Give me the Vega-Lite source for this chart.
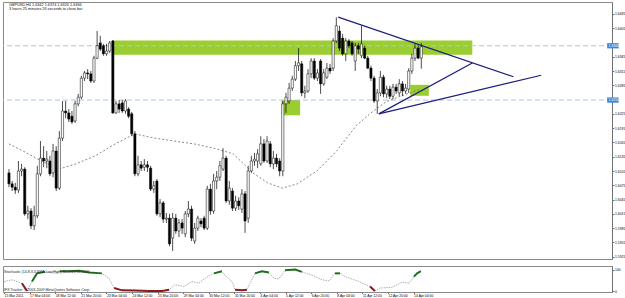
{
  "$schema": "https://vega.github.io/schema/vega-lite/v6.json",
  "background": "white",
  "padding": {"left": 1, "top": 1, "right": 1, "bottom": 0},
  "spacing": 5,
  "config": {
    "view": {"stroke": "#8a8a8a", "strokeWidth": 1},
    "font": "Liberation Sans",
    "axis": {"labelFont": "Liberation Sans", "labelFontSize": 3.4, "labelColor": "#000000", "domainColor": "#707070", "tickColor": "#707070", "tickSize": 2, "labelPadding": 0.5, "grid": false}
  },
  "datasets": {
    "candles": [
      {"i":0,"o":1.6101,"h":1.6109,"l":1.6071,"c":1.6078},
      {"i":1,"o":1.6078,"h":1.6084,"l":1.6063,"c":1.6071},
      {"i":2,"o":1.6071,"h":1.6080,"l":1.6057,"c":1.6065},
      {"i":3,"o":1.6065,"h":1.6126,"l":1.6059,"c":1.6105},
      {"i":4,"o":1.6105,"h":1.6120,"l":1.6094,"c":1.6109},
      {"i":5,"o":1.6109,"h":1.6113,"l":1.6011,"c":1.6015},
      {"i":6,"o":1.6015,"h":1.6032,"l":1.6004,"c":1.6021},
      {"i":7,"o":1.6021,"h":1.6027,"l":1.5983,"c":1.5990},
      {"i":8,"o":1.5990,"h":1.6032,"l":1.5981,"c":1.6011},
      {"i":9,"o":1.6011,"h":1.6116,"l":1.6006,"c":1.6099},
      {"i":10,"o":1.6099,"h":1.6168,"l":1.6094,"c":1.6132},
      {"i":11,"o":1.6132,"h":1.6157,"l":1.6113,"c":1.6126},
      {"i":12,"o":1.6126,"h":1.6147,"l":1.6111,"c":1.6130},
      {"i":13,"o":1.6126,"h":1.6137,"l":1.6094,"c":1.6099},
      {"i":14,"o":1.6101,"h":1.6162,"l":1.6092,"c":1.6147},
      {"i":15,"o":1.6147,"h":1.6157,"l":1.6063,"c":1.6069},
      {"i":16,"o":1.6069,"h":1.6189,"l":1.6065,"c":1.6174},
      {"i":17,"o":1.6174,"h":1.6252,"l":1.6168,"c":1.6231},
      {"i":18,"o":1.6231,"h":1.6252,"l":1.6216,"c":1.6227},
      {"i":19,"o":1.6227,"h":1.6235,"l":1.6208,"c":1.6214},
      {"i":20,"o":1.6220,"h":1.6231,"l":1.6204,"c":1.6208},
      {"i":21,"o":1.6210,"h":1.6252,"l":1.6206,"c":1.6246},
      {"i":22,"o":1.6246,"h":1.6267,"l":1.6241,"c":1.6260},
      {"i":23,"o":1.6260,"h":1.6305,"l":1.6256,"c":1.6300},
      {"i":24,"o":1.6300,"h":1.6315,"l":1.6294,"c":1.6311},
      {"i":25,"o":1.6311,"h":1.6319,"l":1.6298,"c":1.6309},
      {"i":26,"o":1.6309,"h":1.6315,"l":1.6290,"c":1.6294},
      {"i":27,"o":1.6294,"h":1.6347,"l":1.6290,"c":1.6342},
      {"i":28,"o":1.6342,"h":1.6399,"l":1.6340,"c":1.6368},
      {"i":29,"o":1.6374,"h":1.6389,"l":1.6357,"c":1.6361},
      {"i":30,"o":1.6368,"h":1.6372,"l":1.6347,"c":1.6351},
      {"i":31,"o":1.6351,"h":1.6372,"l":1.6347,"c":1.6357},
      {"i":32,"o":1.6357,"h":1.6378,"l":1.6353,"c":1.6374},
      {"i":33,"o":1.6378,"h":1.6380,"l":1.6225,"c":1.6227},
      {"i":34,"o":1.6227,"h":1.6252,"l":1.6225,"c":1.6246},
      {"i":35,"o":1.6246,"h":1.6254,"l":1.6227,"c":1.6235},
      {"i":36,"o":1.6248,"h":1.6254,"l":1.6227,"c":1.6231},
      {"i":37,"o":1.6231,"h":1.6256,"l":1.6225,"c":1.6252},
      {"i":38,"o":1.6235,"h":1.6239,"l":1.6216,"c":1.6220},
      {"i":39,"o":1.6225,"h":1.6229,"l":1.6178,"c":1.6183},
      {"i":40,"o":1.6183,"h":1.6189,"l":1.6094,"c":1.6099},
      {"i":41,"o":1.6099,"h":1.6137,"l":1.6094,"c":1.6118},
      {"i":42,"o":1.6118,"h":1.6126,"l":1.6105,"c":1.6111},
      {"i":43,"o":1.6113,"h":1.6130,"l":1.6105,"c":1.6118},
      {"i":44,"o":1.6118,"h":1.6126,"l":1.6103,"c":1.6113},
      {"i":45,"o":1.6111,"h":1.6116,"l":1.6063,"c":1.6067},
      {"i":46,"o":1.6067,"h":1.6084,"l":1.6059,"c":1.6074},
      {"i":47,"o":1.6084,"h":1.6088,"l":1.6011,"c":1.6015},
      {"i":48,"o":1.6015,"h":1.6046,"l":1.6008,"c":1.6038},
      {"i":49,"o":1.6038,"h":1.6042,"l":1.5996,"c":1.6004},
      {"i":50,"o":1.6004,"h":1.6017,"l":1.5996,"c":1.6006},
      {"i":51,"o":1.6006,"h":1.6015,"l":1.5947,"c":1.5952},
      {"i":52,"o":1.5964,"h":1.6017,"l":1.5937,"c":1.6006},
      {"i":53,"o":1.6006,"h":1.6015,"l":1.5973,"c":1.5979},
      {"i":54,"o":1.5979,"h":1.6004,"l":1.5966,"c":1.5996},
      {"i":55,"o":1.5996,"h":1.6004,"l":1.5973,"c":1.5985},
      {"i":56,"o":1.5973,"h":1.6021,"l":1.5966,"c":1.6015},
      {"i":57,"o":1.6015,"h":1.6042,"l":1.6008,"c":1.6025},
      {"i":58,"o":1.6025,"h":1.6032,"l":1.5958,"c":1.5964},
      {"i":59,"o":1.5958,"h":1.5996,"l":1.5952,"c":1.5985},
      {"i":60,"o":1.5985,"h":1.6011,"l":1.5979,"c":1.6006},
      {"i":61,"o":1.6000,"h":1.6006,"l":1.5987,"c":1.5994},
      {"i":62,"o":1.6006,"h":1.6011,"l":1.5981,"c":1.5985},
      {"i":63,"o":1.5985,"h":1.6074,"l":1.5981,"c":1.6067},
      {"i":64,"o":1.6067,"h":1.6078,"l":1.6013,"c":1.6021},
      {"i":65,"o":1.6021,"h":1.6099,"l":1.6015,"c":1.6084},
      {"i":66,"o":1.6084,"h":1.6105,"l":1.6067,"c":1.6092},
      {"i":67,"o":1.6092,"h":1.6126,"l":1.6084,"c":1.6116},
      {"i":68,"o":1.6109,"h":1.6153,"l":1.6105,"c":1.6132},
      {"i":69,"o":1.6132,"h":1.6137,"l":1.6038,"c":1.6042},
      {"i":70,"o":1.6042,"h":1.6084,"l":1.6034,"c":1.6069},
      {"i":71,"o":1.6063,"h":1.6069,"l":1.6021,"c":1.6027},
      {"i":72,"o":1.6027,"h":1.6053,"l":1.6021,"c":1.6042},
      {"i":73,"o":1.6042,"h":1.6050,"l":1.6023,"c":1.6032},
      {"i":74,"o":1.6025,"h":1.6067,"l":1.6017,"c":1.6057},
      {"i":75,"o":1.6057,"h":1.6063,"l":1.5975,"c":1.6000},
      {"i":76,"o":1.6006,"h":1.6116,"l":1.5996,"c":1.6105},
      {"i":77,"o":1.6105,"h":1.6137,"l":1.6101,"c":1.6126},
      {"i":78,"o":1.6126,"h":1.6143,"l":1.6116,"c":1.6130},
      {"i":79,"o":1.6126,"h":1.6151,"l":1.6111,"c":1.6141},
      {"i":80,"o":1.6120,"h":1.6178,"l":1.6116,"c":1.6162},
      {"i":81,"o":1.6162,"h":1.6172,"l":1.6122,"c":1.6126},
      {"i":82,"o":1.6126,"h":1.6178,"l":1.6122,"c":1.6168},
      {"i":83,"o":1.6162,"h":1.6168,"l":1.6113,"c":1.6120},
      {"i":84,"o":1.6120,"h":1.6147,"l":1.6109,"c":1.6132},
      {"i":85,"o":1.6132,"h":1.6141,"l":1.6113,"c":1.6120},
      {"i":86,"o":1.6126,"h":1.6132,"l":1.6094,"c":1.6105},
      {"i":87,"o":1.6105,"h":1.6252,"l":1.6094,"c":1.6246},
      {"i":88,"o":1.6246,"h":1.6269,"l":1.6227,"c":1.6260},
      {"i":89,"o":1.6252,"h":1.6290,"l":1.6246,"c":1.6279},
      {"i":90,"o":1.6279,"h":1.6305,"l":1.6273,"c":1.6298},
      {"i":91,"o":1.6298,"h":1.6336,"l":1.6294,"c":1.6326},
      {"i":92,"o":1.6326,"h":1.6363,"l":1.6315,"c":1.6332},
      {"i":93,"o":1.6330,"h":1.6336,"l":1.6262,"c":1.6269},
      {"i":94,"o":1.6269,"h":1.6284,"l":1.6258,"c":1.6273},
      {"i":95,"o":1.6273,"h":1.6319,"l":1.6269,"c":1.6309},
      {"i":96,"o":1.6309,"h":1.6342,"l":1.6300,"c":1.6336},
      {"i":97,"o":1.6336,"h":1.6342,"l":1.6296,"c":1.6300},
      {"i":98,"o":1.6300,"h":1.6319,"l":1.6294,"c":1.6311},
      {"i":99,"o":1.6336,"h":1.6340,"l":1.6267,"c":1.6288},
      {"i":100,"o":1.6288,"h":1.6319,"l":1.6284,"c":1.6311},
      {"i":101,"o":1.6302,"h":1.6332,"l":1.6298,"c":1.6321},
      {"i":102,"o":1.6321,"h":1.6330,"l":1.6309,"c":1.6315},
      {"i":103,"o":1.6321,"h":1.6384,"l":1.6315,"c":1.6378},
      {"i":104,"o":1.6378,"h":1.6428,"l":1.6374,"c":1.6410},
      {"i":105,"o":1.6399,"h":1.6410,"l":1.6357,"c":1.6363},
      {"i":106,"o":1.6384,"h":1.6393,"l":1.6347,"c":1.6351},
      {"i":107,"o":1.6351,"h":1.6384,"l":1.6336,"c":1.6378},
      {"i":108,"o":1.6378,"h":1.6382,"l":1.6363,"c":1.6368},
      {"i":109,"o":1.6374,"h":1.6378,"l":1.6347,"c":1.6351},
      {"i":110,"o":1.6336,"h":1.6374,"l":1.6315,"c":1.6368},
      {"i":111,"o":1.6368,"h":1.6374,"l":1.6351,"c":1.6361},
      {"i":112,"o":1.6347,"h":1.6410,"l":1.6342,"c":1.6372},
      {"i":113,"o":1.6363,"h":1.6368,"l":1.6340,"c":1.6342},
      {"i":114,"o":1.6342,"h":1.6347,"l":1.6319,"c":1.6321},
      {"i":115,"o":1.6321,"h":1.6326,"l":1.6294,"c":1.6300},
      {"i":116,"o":1.6300,"h":1.6305,"l":1.6248,"c":1.6252},
      {"i":117,"o":1.6252,"h":1.6277,"l":1.6225,"c":1.6269},
      {"i":118,"o":1.6269,"h":1.6315,"l":1.6262,"c":1.6302},
      {"i":119,"o":1.6302,"h":1.6307,"l":1.6260,"c":1.6267},
      {"i":120,"o":1.6267,"h":1.6284,"l":1.6258,"c":1.6277},
      {"i":121,"o":1.6277,"h":1.6284,"l":1.6256,"c":1.6262},
      {"i":122,"o":1.6262,"h":1.6288,"l":1.6256,"c":1.6281},
      {"i":123,"o":1.6281,"h":1.6288,"l":1.6267,"c":1.6273},
      {"i":124,"o":1.6269,"h":1.6298,"l":1.6262,"c":1.6288},
      {"i":125,"o":1.6288,"h":1.6294,"l":1.6262,"c":1.6273},
      {"i":126,"o":1.6273,"h":1.6288,"l":1.6267,"c":1.6279},
      {"i":127,"o":1.6277,"h":1.6321,"l":1.6269,"c":1.6315},
      {"i":128,"o":1.6315,"h":1.6351,"l":1.6309,"c":1.6342},
      {"i":129,"o":1.6342,"h":1.6372,"l":1.6336,"c":1.6363},
      {"i":130,"o":1.6363,"h":1.6370,"l":1.6340,"c":1.6342},
      {"i":131,"o":1.6342,"h":1.6374,"l":1.6320,"c":1.6366}
    ],
    "ma": [
      {"i":0,"p":1.6162},{"i":5.6,"p":1.6143},{"i":10.3,"p":1.6126},{"i":15.9,"p":1.6109},
      {"i":21.25,"p":1.6120},{"i":27.5,"p":1.6137},{"i":33.75,"p":1.6162},{"i":40,"p":1.6183},
      {"i":46.25,"p":1.6174},{"i":52.5,"p":1.6168},{"i":58.75,"p":1.6162},{"i":65,"p":1.6153},
      {"i":71.25,"p":1.6141},{"i":77.5,"p":1.6101},{"i":82.2,"p":1.6080},{"i":86.9,"p":1.6069},
      {"i":91.6,"p":1.6078},{"i":97.8,"p":1.6105},{"i":104.1,"p":1.6147},{"i":110.3,"p":1.6200},
      {"i":115,"p":1.6227},{"i":119.7,"p":1.6250},{"i":124.4,"p":1.6262},{"i":130.6,"p":1.6277}
    ],
    "zones": [
      {"i1":32.8,"i2":147.2,"p1":1.6379,"p2":1.6349},
      {"i1":86.6,"i2":92.5,"p1":1.6254,"p2":1.6222},
      {"i1":127.5,"i2":133.4,"p1":1.6286,"p2":1.6263}
    ],
    "levels": [
      {"v":1.6368,"label":"1.6368"},
      {"v":1.6254,"label":"1.6254"}
    ],
    "trend": [
      {"i1":104.6,"p1":1.6428,"i2":160.3,"p2":1.6303},
      {"i1":117.5,"p1":1.6225,"i2":147.2,"p2":1.6332},
      {"i1":117.5,"p1":1.6225,"i2":169.1,"p2":1.6306}
    ],
    "stoch": [
      {"i":0,"v":44},{"i":2.5,"v":52},{"i":5.6,"v":36,"seg":"r1","zone":"down"},{"i":7.2,"v":0,"seg":"r1","zone":"down"},
      {"i":8.75,"v":44,"seg":"g1","zone":"up"},{"i":10.3,"v":82,"seg":"g1","zone":"up"},{"i":12.8,"v":89,"seg":"g1","zone":"up"},
      {"i":16,"v":82},{"i":17.5,"v":92,"seg":"g2","zone":"up"},{"i":20.3,"v":92,"seg":"g2","zone":"up"},{"i":23.4,"v":94,"seg":"g2","zone":"up"},
      {"i":26.6,"v":86,"seg":"g2","zone":"up"},{"i":30.6,"v":82,"seg":"g2","zone":"up"},{"i":32.8,"v":59},
      {"i":34.4,"v":14,"seg":"r2","zone":"down"},{"i":36.9,"v":3,"seg":"r2","zone":"down"},{"i":41,"v":2,"seg":"r2","zone":"down"},
      {"i":45.3,"v":0,"seg":"r2","zone":"down"},{"i":49.4,"v":0,"seg":"r2","zone":"down"},{"i":51.6,"v":6,"seg":"r2","zone":"down"},
      {"i":53.4,"v":29},{"i":56.2,"v":21},{"i":58.75,"v":44},{"i":60.9,"v":36},{"i":62.8,"v":59},
      {"i":65.6,"v":82,"seg":"g3","zone":"up"},{"i":68.1,"v":92,"seg":"g3","zone":"up"},{"i":69,"v":74},{"i":71.25,"v":44},
      {"i":72.2,"v":6,"seg":"r3","zone":"down"},{"i":74.4,"v":3,"seg":"r3","zone":"down"},{"i":75.9,"v":6,"seg":"r3","zone":"down"},
      {"i":78.4,"v":82,"seg":"g4","zone":"up"},{"i":80.6,"v":92,"seg":"g4","zone":"up"},{"i":82.8,"v":86,"seg":"g4","zone":"up"},
      {"i":84.4,"v":59},{"i":85.9,"v":56},
      {"i":87.8,"v":97,"seg":"g5","zone":"up"},{"i":91,"v":100,"seg":"g5","zone":"up"},{"i":93.1,"v":89,"seg":"g5","zone":"up"},
      {"i":96.25,"v":74},{"i":99.4,"v":52},{"i":101.6,"v":47},
      {"i":103.4,"v":82,"seg":"g6","zone":"up"},{"i":105,"v":82,"seg":"g6","zone":"up"},
      {"i":106.6,"v":67},{"i":110.9,"v":44},
      {"i":114.4,"v":21,"seg":"r4","zone":"down"},{"i":115.9,"v":0,"seg":"r4","zone":"down"},
      {"i":117.5,"v":14},{"i":121.25,"v":17},{"i":124.4,"v":41},{"i":126.6,"v":36},
      {"i":128.1,"v":67,"seg":"g7","zone":"up"},{"i":129.1,"v":82,"seg":"g7","zone":"up"},{"i":130.3,"v":92,"seg":"g7","zone":"up"}
    ]
  },
  "vconcat": [
    {
      "width": 609,
      "height": 257,
      "resolve": {"axis": {"y": "independent"}},
      "layer": [
        {
          "data": {"name": "zones"},
          "mark": {"type": "rect", "color": "#9ACD32"},
          "encoding": {
            "x": {"field": "i1", "type": "quantitative", "scale": {"domain": [-0.3125, 190], "nice": false, "zero": false}, "axis": null},
            "x2": {"field": "i2"},
            "y": {"field": "p1", "type": "quantitative", "scale": {"domain": [1.59202, 1.64599], "nice": false, "zero": false}, "title": null,
              "axis": {"orient": "right", "format": ".4f", "labels": true, "ticks": true, "domain": true, "labelOverlap": false, "labelFlush": false, "values": [1.5925,1.5955,1.5985,1.6015,1.6045,1.6075,1.6105,1.6135,1.6165,1.6195,1.6225,1.6285,1.6315,1.6345,1.6405,1.6435]}},
            "y2": {"field": "p2"}
          }
        },
        {
          "data": {"name": "levels"},
          "mark": {"type": "rule", "color": "#A6C6E8", "strokeWidth": 1, "strokeDash": [5, 3]},
          "encoding": {
            "y": {"field": "v", "type": "quantitative", "axis": null}
          }
        },
        {
          "data": {"name": "ma"},
          "mark": {"type": "line", "color": "#6a6a6a", "strokeWidth": 0.8, "strokeDash": [2, 2]},
          "encoding": {
            "x": {"field": "i", "type": "quantitative", "axis": null},
            "y": {"field": "p", "type": "quantitative", "axis": null}
          }
        },
        {
          "data": {"name": "candles"},
          "mark": {"type": "rule", "color": "#000000", "strokeWidth": 0.7},
          "encoding": {
            "x": {"field": "i", "type": "quantitative", "axis": null},
            "y": {"field": "l", "type": "quantitative", "axis": null},
            "y2": {"field": "h"}
          }
        },
        {
          "data": {"name": "candles"},
          "mark": {"type": "bar", "width": 2.2, "stroke": "#000000", "strokeWidth": 0.5},
          "encoding": {
            "x": {"field": "i", "type": "quantitative", "axis": null},
            "y": {"field": "o", "type": "quantitative", "axis": null},
            "y2": {"field": "c"},
            "fill": {"condition": {"test": "datum.c >= datum.o", "value": "#ffffff"}, "value": "#000000"}
          }
        },
        {
          "data": {"name": "trend"},
          "mark": {"type": "rule", "color": "#1D1D7E", "strokeWidth": 1.2},
          "encoding": {
            "x": {"field": "i1", "type": "quantitative", "axis": null},
            "x2": {"field": "i2"},
            "y": {"field": "p1", "type": "quantitative", "axis": null},
            "y2": {"field": "p2"}
          }
        },
        {
          "data": {"name": "levels"},
          "transform": [
            {"calculate": "datum.v - 0.00055", "as": "lo"},
            {"calculate": "datum.v + 0.00055", "as": "hi"}
          ],
          "mark": {"type": "rect", "color": "#3A88D6", "clip": false},
          "encoding": {
            "x": {"datum": 190.05, "type": "quantitative", "axis": null},
            "x2": {"datum": 193.7},
            "y": {"field": "lo", "type": "quantitative", "axis": null},
            "y2": {"field": "hi"}
          }
        },
        {
          "data": {"name": "levels"},
          "mark": {"type": "text", "color": "#ffffff", "fontSize": 3.4, "align": "left", "baseline": "middle", "clip": false},
          "encoding": {
            "x": {"datum": 190.5, "type": "quantitative", "axis": null},
            "y": {"field": "v", "type": "quantitative", "axis": null},
            "text": {"field": "label"}
          }
        },
        {
          "data": {"values": [{"label": "GBPUSD,H4  1.6342 1.6374 1.6320 1.6366"}]},
          "mark": {"type": "text", "color": "#111111", "fontSize": 3.8, "align": "left", "baseline": "middle"},
          "encoding": {
            "x": {"datum": 0, "type": "quantitative", "axis": null},
            "y": {"datum": 1.6454, "type": "quantitative", "axis": null},
            "text": {"field": "label"}
          }
        },
        {
          "data": {"values": [{"label": "3 hours 25 minutes 26 seconds to close bar"}]},
          "mark": {"type": "text", "color": "#111111", "fontSize": 3.8, "align": "left", "baseline": "middle"},
          "encoding": {
            "x": {"datum": 0, "type": "quantitative", "axis": null},
            "y": {"datum": 1.6445, "type": "quantitative", "axis": null},
            "text": {"field": "label"}
          }
        }
      ]
    },
    {
      "width": 609,
      "height": 26,
      "resolve": {"axis": {"x": "independent", "y": "independent"}},
      "layer": [
        {
          "data": {"name": "stoch"},
          "mark": {"type": "line", "color": "#9a9a9a", "strokeWidth": 0.8, "strokeDash": [1.5, 1]},
          "encoding": {
            "x": {"field": "i", "type": "quantitative", "scale": {"domain": [-0.3125, 190], "nice": false, "zero": false}, "title": null,
              "axis": {"orient": "bottom", "labels": true, "ticks": true, "labelOverlap": false, "labelFlush": false, "values": [0,8,16,24,32,40,48,56,64,72,80,88,96,104,112,120,128], "labelAlign": "left", "labelBaseline": "top", "tickSize": 1.5, "labelPadding": 0, "domain": false,
                "labelExpr": "['15 Mar 2011','17 Mar 04:00','18 Mar 12:00','21 Mar 20:00','23 Mar 04:00','24 Mar 12:00','25 Mar 20:00','29 Mar 04:00','30 Mar 12:00','31 Mar 20:00','4 Apr 04:00','5 Apr 12:00','6 Apr 20:00','8 Apr 04:00','11 Apr 12:00','12 Apr 20:00','14 Apr 04:00'][round(datum.value / 8)]"}},
            "y": {"field": "v", "type": "quantitative", "scale": {"domain": [-4.65, 116.3], "nice": false, "zero": false}, "title": null,
              "axis": {"orient": "right", "values": [0, 100], "labels": true, "labelOverlap": false, "labelFlush": false}}
          }
        },
        {
          "data": {"name": "stoch"},
          "transform": [{"filter": "datum.seg != null"}],
          "mark": {"type": "line", "strokeWidth": 2},
          "encoding": {
            "x": {"field": "i", "type": "quantitative", "axis": null},
            "y": {"field": "v", "type": "quantitative", "axis": null},
            "detail": {"field": "seg"},
            "color": {"field": "zone", "type": "nominal", "scale": {"domain": ["up", "down"], "range": ["#1F6E1F", "#8B1A1A"]}, "legend": null}
          }
        },
        {
          "data": {"values": [{"label": "Stochastic (14,8,3,3,SMA,Low/High)  80.0920 66.8020"}]},
          "mark": {"type": "text", "color": "#222222", "fontSize": 3.6, "align": "left", "baseline": "middle"},
          "encoding": {
            "x": {"datum": 0, "type": "quantitative", "axis": null},
            "y": {"datum": 88, "type": "quantitative", "axis": null},
            "text": {"field": "label"}
          }
        },
        {
          "data": {"values": [{"label": "IFX Tracker © 2003-2009 MetaQuotes Software Corp."}]},
          "mark": {"type": "text", "color": "#222222", "fontSize": 3.6, "align": "left", "baseline": "middle"},
          "encoding": {
            "x": {"datum": 0, "type": "quantitative", "axis": null},
            "y": {"datum": 5, "type": "quantitative", "axis": null},
            "text": {"field": "label"}
          }
        }
      ]
    }
  ]
}
